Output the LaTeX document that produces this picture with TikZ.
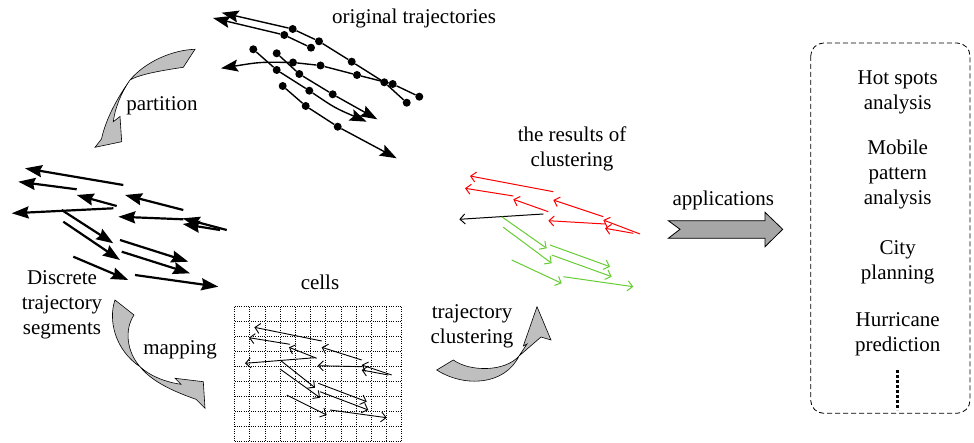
\documentclass[tikz,border=0pt]{standalone}
\usepackage{fontspec}
\setmainfont{Liberation Serif}
\usetikzlibrary{arrows.meta}
\definecolor{cgreen}{RGB}{102,204,51}
\definecolor{cred}{RGB}{255,0,0}
\definecolor{arrgray}{RGB}{191,191,191}
\definecolor{appgray}{RGB}{166,166,166}
\begin{document}
\begin{tikzpicture}[x=1pt,y=-1pt,
  lbl/.style={font=\fontsize{21}{25}\selectfont, align=center, inner sep=0pt},
  traj/.style={line width=1.4pt, -{Stealth[length=17pt,width=12pt,inset=3pt]}},
  dot/.style={circle, fill=black, inner sep=0pt, minimum size=8pt},
  seg/.style={line width=2.2pt, -{Stealth[length=17pt,width=12pt,inset=2pt]}},
  cellarr/.style={line width=0.9pt, -{Straight Barb[length=5pt,width=10pt]}},
  clarr/.style={line width=1pt, -{Straight Barb[length=5pt,width=10pt]}},
  gridline/.style={line width=0.7pt, dash pattern=on 1pt off 1.3pt},
  carrow/.style={draw=black, line width=0.6pt, fill=arrgray},
  appbox/.style={draw=black, line width=0.8pt, dash pattern=on 5pt off 3pt, rounded corners=13pt}
]
\useasboundingbox (0,0) rectangle (974,443);

% ---------- original trajectories ----------
\node[dot] (a1) at (292.7,29) {};
\node[dot] (a2) at (319,41.3) {};
\node[dot] (a3) at (351.7,61.7) {};
\node[dot] (a4) at (384.3,82.3) {};
\node[dot] (a5) at (406.7,102.7) {};
\coordinate (at) at (221.7,12.7);
\draw[traj] (a5) -- (a4) -- (a3) -- (a2) -- (a1) -- (at);

\node[dot] (b1) at (284.3,35) {};
\node[dot] (b2) at (311,47.7) {};
\coordinate (bt) at (213,18);
\draw[traj] (b2) -- (b1) -- (bt);

\node[dot] (c1) at (293,62.5) {};
\node[dot] (c2) at (320.5,65.5) {};
\node[dot] (c3) at (357,75) {};
\node[dot] (c4) at (392.7,84) {};
\node[dot] (c5) at (419.3,96.7) {};
\coordinate (ct) at (221,68.3);
\draw[traj] (c5) -- (c4) -- (c3) -- (c2) -- (c1) .. controls (260,62) .. (ct);

\node[dot] (d1) at (253.3,49.3) {};
\node[dot] (d2) at (276.7,70) {};
\node[dot] (d3) at (309.3,90.7) {};
\coordinate (dt) at (366.7,121.7);
\draw[traj] (d1) -- (d2) -- (d3) .. controls (335,108) .. (dt);

\node[dot] (e1) at (276.7,53.3) {};
\node[dot] (e2) at (299.3,74) {};
\node[dot] (e3) at (332.7,94.3) {};
\coordinate (et) at (377.3,119.3);
\draw[traj] (e1) -- (e2) -- (e3) -- (et);

\node[dot] (f1) at (282.7,86) {};
\node[dot] (f2) at (305.7,106) {};
\node[dot] (f3) at (337.7,126.7) {};
\coordinate (ft) at (396.7,158.3);
\draw[traj] (f1) -- (f2) -- (f3) -- (ft);

\node[lbl] (torig) at (414,18) {original trajectories};

% ---------- partition arrow ----------
\draw[carrow] (195,49.3) .. controls (172,50) and (145,62) .. (130,80)
  .. controls (118,97) and (106,118) .. (101.5,139) -- (95,147.3) -- (121.7,141.7) -- (120,116.5) -- (113.3,121.7)
  .. controls (115,108) and (121,93) .. (130,80)
  .. controls (140,74) and (165,70) .. (183.3,67.3) -- cycle;
\node[lbl] (tpart) at (162,106) {partition};

% ---------- discrete segments ----------
\draw[seg] (123.3,185) -- (25,168.3);
\draw[seg] (76.7,189.3) -- (18.3,181.7);
\draw[seg] (116.7,206) -- (76.7,195);
\draw[seg] (113.3,208.3) -- (11.7,213.3);
\draw[seg] (183.3,210) -- (125,195);
\draw[seg] (183.3,219.3) -- (118.3,216.7);
\draw[seg] (226.7,230) -- (182.7,218.3);
\draw[seg] (220,230) -- (182.7,224);
\draw[seg] (61.7,210) -- (113.3,243.3);
\draw[seg] (63.3,221.7) -- (120,260);
\draw[seg] (120,240) -- (188.3,261.7);
\draw[seg] (121.7,251.7) -- (190,273.3);
\draw[seg] (73.3,256.7) -- (128.3,280);
\draw[seg] (135,275) -- (218.3,286.7);
\node[lbl] (tdisc) at (62,305) {Discrete\\trajectory\\segments};

% ---------- mapping arrow ----------
\draw[carrow] (115,300) .. controls (108,320) and (115,350) .. (140,366.7)
  .. controls (152,382) and (175,392) .. (196,399.3) -- (205,408.3) -- (203.3,381.7) -- (175,378.3) -- (181,384.3)
  .. controls (165,382) and (150,376) .. (140,366.7)
  .. controls (127,352) and (124,330) .. (134,315) -- cycle;
\node[lbl] (tmap) at (180,350) {mapping};

% ---------- cells ----------
\foreach \i in {0,...,11} {\draw[gridline] (234.5+15.2*\i,306.7) -- (234.5+15.2*\i,441.7);}
\foreach \j in {0,...,9} {\draw[gridline] (234.5,306.7+15*\j) -- (401.7,306.7+15*\j);}
\node[lbl] (tcells) at (320,282) {cells};
\draw[cellarr] (321.7,341) -- (254.3,327.3);
\draw[cellarr] (290,344.3) -- (249,337.7);
\draw[cellarr] (316.7,358.3) -- (289,347.3);
\draw[cellarr] (315,357.7) -- (245,363.3);
\draw[cellarr] (361.7,360) -- (321.7,347.3);
\draw[cellarr] (361.7,366.7) -- (317.7,365.7);
\draw[cellarr] (391.7,375) -- (361.7,365);
\draw[cellarr] (388.3,375) -- (361.7,370);
\draw[cellarr] (280,360) -- (315,387.7);
\draw[cellarr] (280,369) -- (320,397.7);
\draw[cellarr] (318.3,383.3) -- (366.7,401.7);
\draw[cellarr] (320,391.7) -- (368.3,410);
\draw[cellarr] (286.7,395) -- (326.7,415);
\draw[cellarr] (330,410) -- (386.7,417.7);

% ---------- trajectory clustering arrow ----------
\draw[carrow] (436.7,370) .. controls (465,388) and (505,385) .. (519,356)
  -- (527,344) -- (523.3,346) -- (537,306.7) -- (551,340) -- (541,337)
  -- (519,356)
  .. controls (505,372) and (470,372) .. (453.3,360) -- cycle;
\node[lbl] (tclus) at (472,326) {trajectory\\clustering};

% ---------- results of clustering ----------
\node[lbl] (tres) at (572,149) {the results of\\clustering};
\draw[clarr, cred] (553.3,191.7) -- (470,176);
\draw[clarr, cred] (513.3,196) -- (465,188.3);
\draw[clarr, cred] (548.3,211.7) -- (513.3,199.3);
\draw[clarr, cred] (603.3,216.7) -- (553.3,200);
\draw[clarr, cred] (605,224) -- (548.3,220.7);
\draw[clarr, cred] (640,234) -- (603.3,220);
\draw[clarr, cred] (633.3,233.3) -- (605,228.3);
\draw[clarr, black] (543.3,214) -- (459.3,219.3);
\draw[clarr, cgreen] (501.7,216.7) -- (546.7,248.3);
\draw[clarr, cgreen] (503.3,227.3) -- (551.7,263.3);
\draw[clarr, cgreen] (550,245) -- (610,266.7);
\draw[clarr, cgreen] (551.7,255) -- (611.7,276.7);
\draw[clarr, cgreen] (511.7,260) -- (561.7,283.3);
\draw[clarr, cgreen] (563.3,276.7) -- (633.3,286.7);

% ---------- applications ----------
\draw[draw=black, line width=0.8pt, fill=appgray] (668.3,220.7) -- (765,220.7) -- (765,212.3) -- (782.7,229.3)
  -- (765,246.7) -- (765,238.3) -- (668.3,238.3) -- (680,229.3) -- cycle;
\node[lbl] (tapp) at (723.3,200.7) {applications};

\draw[appbox] (810.7,43) rectangle (970,413.3);
\node[lbl] (h1) at (897.7,92.5) {Hot spots\\analysis};
\node[lbl] (h2) at (897.7,174.5) {Mobile\\pattern\\analysis};
\node[lbl] (h3) at (897.7,262.5) {City\\planning};
\node[lbl] (h4) at (897.7,334.2) {Hurricane\\prediction};
\coordinate (v1) at (897.7,370);
\coordinate (v2) at (897.7,410);
\draw[line width=3pt, dash pattern=on 2.5pt off 2.5pt] (v1) -- (v2);
\end{tikzpicture}
\end{document}
